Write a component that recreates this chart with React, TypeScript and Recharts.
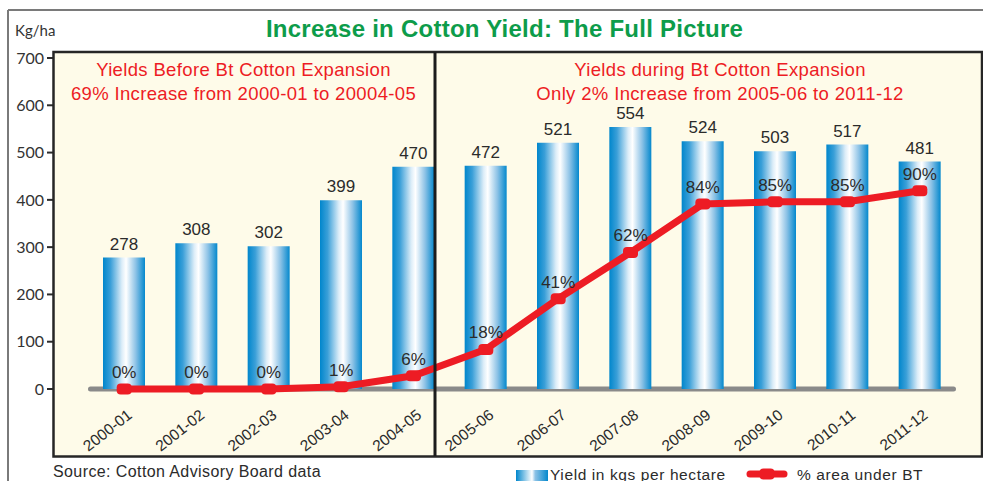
import { Bar, ComposedChart, LabelList, Line, ReferenceArea, XAxis, YAxis } from 'recharts'

const seasons = [
  '2000-01', '2001-02', '2002-03', '2003-04', '2004-05', '2005-06',
  '2006-07', '2007-08', '2008-09', '2009-10', '2010-11', '2011-12',
]
const yieldKgHa = [278, 308, 302, 399, 470, 472, 521, 554, 524, 503, 517, 481]
const btAreaPct = [0, 0, 0, 1, 6, 18, 41, 62, 84, 85, 85, 90]
const yieldTicks = [0, 100, 200, 300, 400, 500, 600, 700]

const data = seasons.map((season, i) => ({ season, yield: yieldKgHa[i], bt: btAreaPct[i] }))

const RED = '#ed1c24'
const INK = '#2b2b2b'
const SANS = "'Liberation Sans', Arial, sans-serif"
const W = 983
const H = 481

function SeasonTick(props: any) {
  const { x, y, payload } = props
  return (
    <text
      transform={`translate(${x + 9},${y - 39}) rotate(-38)`}
      textAnchor="end"
      fontFamily={SANS}
      fontSize={15.5}
      fill={INK}
    >
      {payload.value}
    </text>
  )
}

function BtDot(props: any) {
  const { cx, cy } = props
  if (cx == null || cy == null) return null
  return <rect x={cx - 7.5} y={cy - 5.5} width={15} height={11} rx={4} fill={RED} />
}

export default function App() {
  return (
    <div style={{ position: 'absolute', left: 0, top: 0, width: W, height: H, background: '#fff' }}>
      <div style={{ position: 'absolute', left: 53, top: 52, width: 929, height: 404, background: '#fefbe9' }} />

      <div style={{ position: 'absolute', left: 0, top: 0 }}>
        <ComposedChart width={W} height={H} data={data} margin={{ top: 52, right: 1, bottom: 24, left: 8 }}>
          <defs>
            <linearGradient id="barShade" x1="0" y1="0" x2="1" y2="0">
              <stop offset="0%" stopColor="#0086cc" />
              <stop offset="18%" stopColor="#3a9fd8" />
              <stop offset="45%" stopColor="#dcedf8" />
              <stop offset="55%" stopColor="#ffffff" />
              <stop offset="78%" stopColor="#8cc2e6" />
              <stop offset="100%" stopColor="#0488cd" />
            </linearGradient>
          </defs>

          <XAxis
            dataKey="season"
            height={1}
            padding={{ left: 35, right: 26 }}
            axisLine={false}
            tickLine={false}
            tickSize={0}
            tickMargin={0}
            interval={0}
            tick={<SeasonTick />}
          />
          <YAxis
            yAxisId="kg"
            domain={[-141.7, 712.7]}
            allowDataOverflow
            ticks={yieldTicks}
            interval={0}
            width={45}
            axisLine={false}
            tickSize={6}
            tickMargin={3}
            tickLine={{ stroke: INK, strokeWidth: 2 }}
            tick={{ fill: '#333', fontSize: 16, fontFamily: 'Lato, sans-serif' }}
          />
          <YAxis yAxisId="pct" domain={[-30.4, 153]} allowDataOverflow hide />

          {/* grey base rail under the bars, spanning the full category range */}
          <ReferenceArea
            yAxisId="kg"
            x1={seasons[0]}
            x2={seasons[seasons.length - 1]}
            y1={-5.3}
            y2={5.3}
            fill="#8a8a8a"
            fillOpacity={1}
            stroke="none"
            radius={2.5}
          />

          <Bar yAxisId="kg" dataKey="yield" barSize={42} fill="url(#barShade)" isAnimationActive={false}>
            <LabelList dataKey="yield" position="top" offset={8} fill={INK} fontSize={17} fontFamily={SANS} />
          </Bar>
          <Line
            yAxisId="pct"
            type="linear"
            dataKey="bt"
            stroke={RED}
            strokeWidth={7}
            dot={<BtDot />}
            activeDot={false}
            isAnimationActive={false}
          >
            <LabelList
              dataKey="bt"
              position="top"
              offset={11}
              fill={INK}
              fontSize={17}
              fontFamily={SANS}
              formatter={(v: any) => `${v}%`}
            />
          </Line>
        </ComposedChart>
      </div>

      <svg width={W} height={H} style={{ position: 'absolute', left: 0, top: 0, pointerEvents: 'none' }}>
        <line x1={8} y1={10} x2={W} y2={10} stroke="#7a7a7a" strokeWidth={2} />
        <line x1={8} y1={10} x2={8} y2={H} stroke="#7a7a7a" strokeWidth={2} />
        <rect x={53.5} y={52} width={928.5} height={404.5} fill="none" stroke="#262626" strokeWidth={2.5} />
        <line x1={435} y1={52} x2={435} y2={456} stroke="#1c1c1c" strokeWidth={3} />

        <text x={504.5} y={37} textAnchor="middle" fontFamily={SANS} fontWeight="bold" fontSize={24} letterSpacing={0.25} fill="#0d9c4a">
          Increase in Cotton Yield: The Full Picture
        </text>
        <text x={15} y={36} fontFamily="Lato, sans-serif" fontSize={15} fill="#333">Kg/ha</text>

        <g fontFamily={SANS} fontSize={18.5} letterSpacing={0.35} fill={RED} textAnchor="middle">
          <text x={243.5} y={76}>Yields Before Bt Cotton Expansion</text>
          <text x={243.5} y={100}>69% Increase from 2000-01 to 20004-05</text>
          <text x={720} y={76}>Yields during Bt Cotton Expansion</text>
          <text x={720} y={100}>Only 2% Increase from 2005-06 to 2011-12</text>
        </g>

        <text x={53} y={476.5} fontFamily={SANS} fontSize={16} letterSpacing={0.4} fill={INK}>
          Source: Cotton Advisory Board data
        </text>

        <rect x={516} y={470} width={32} height={12} fill="url(#legendShade)" />
        <defs>
          <linearGradient id="legendShade" x1="0" y1="0" x2="1" y2="0">
            <stop offset="0%" stopColor="#0086cc" />
            <stop offset="50%" stopColor="#ffffff" />
            <stop offset="60%" stopColor="#8cc2e6" />
            <stop offset="100%" stopColor="#0488cd" />
          </linearGradient>
        </defs>
        <text x={550} y={479.5} fontFamily={SANS} fontSize={15.5} letterSpacing={0.6} fill={INK}>
          Yield in kgs per hectare
        </text>
        <line x1={750} y1={474} x2={784} y2={474} stroke={RED} strokeWidth={7} strokeLinecap="round" />
        <rect x={759.5} y={468.5} width={15} height={11} rx={4} fill={RED} />
        <text x={797} y={479.5} fontFamily={SANS} fontSize={15.5} letterSpacing={0.6} fill={INK}>
          % area under BT
        </text>
      </svg>
    </div>
  )
}
